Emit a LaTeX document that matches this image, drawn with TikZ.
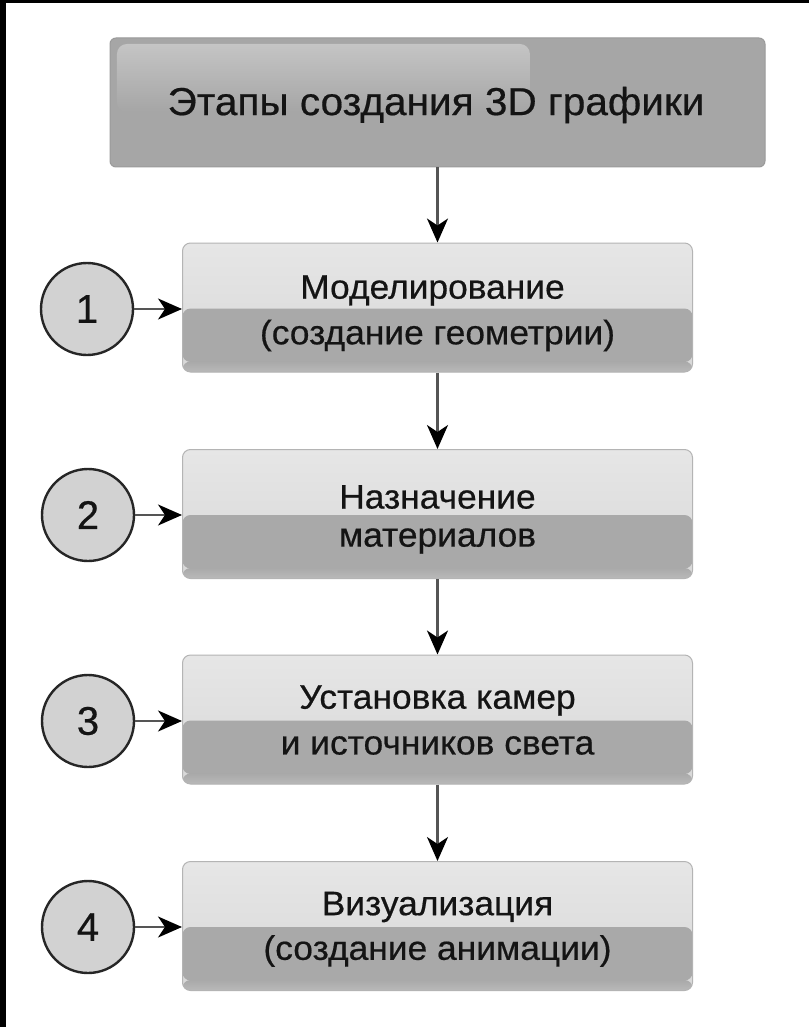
\documentclass[tikz,border=0pt]{standalone}
\usepackage{fontspec}
\setmainfont{Liberation Sans}
\newfontfamily\boxfont[FakeStretch=1.04,FakeBold=0.5]{Liberation Sans}
\newfontfamily\numfont[FakeBold=0.5]{Liberation Sans}
\usetikzlibrary{arrows.meta,fadings}
\definecolor{titlegray}{HTML}{A6A6A6}
\definecolor{titleedge}{HTML}{9A9A9A}
\definecolor{boxlight}{HTML}{D8D8D8}
\definecolor{boxlighttop}{HTML}{E6E6E6}
\definecolor{boxdark}{HTML}{A9A9A9}
\definecolor{boxdarkbot}{HTML}{B9B9B9}
\definecolor{boxedge}{HTML}{B4B4B4}
\definecolor{circfill}{HTML}{D2D2D2}
\definecolor{linegray}{HTML}{555555}
\definecolor{txt}{HTML}{141414}
\tikzset{
  titlebox/.style={rectangle, rounded corners=6pt, minimum width=655pt, minimum height=129pt,
    fill=titlegray, draw=titleedge, line width=1pt, inner sep=0pt},
  stepbox/.style={rectangle, rounded corners=8pt, minimum width=510pt, minimum height=129pt,
    draw=boxedge, line width=1pt, top color=boxlighttop, bottom color=boxlight, inner sep=0pt,
    path picture={\fill[boxdark]
      ([yshift=-1pt]path picture bounding box.west) rectangle ([yshift=10pt]path picture bounding box.south east);
      \shade[top color=boxdark, bottom color=boxdarkbot]
      ([yshift=10.5pt]path picture bounding box.south west) rectangle (path picture bounding box.south east);}},
  numcirc/.style={circle, minimum size=92pt, fill=circfill, draw=black!85, line width=2.4pt, inner sep=0pt,
    font=\numfont\fontsize{40pt}{40pt}\selectfont, text=txt},
  linetext/.style={inner sep=0pt, font=\boxfont\fontsize{34pt}{34pt}\selectfont, text=txt},
  flow/.style={draw=linegray, line width=2.4pt, -{Stealth[length=24pt,width=21pt,inset=7pt,color=black]}},
}
\begin{document}
\begin{tikzpicture}[x=1pt,y=1pt]
\useasboundingbox (0,0) rectangle (809,-1027);
\fill[white] (0,0) rectangle (809,-1027);
\fill[black] (0,0) rectangle (6,-1027);
\fill[black] (0,0) rectangle (809,-3);

% title
\node[titlebox] (title) at (437.5,-102.5) {};
\fill[white, fill opacity=0.35, path fading=south, rounded corners=10pt]
  (117,-44) rectangle (530,-112);
\node[inner sep=0pt, font=\boxfont\fontsize{39pt}{39pt}\selectfont, text=txt] (titletext) at (436,-105)
  {Этапы создания 3D графики};

% steps
\node[stepbox] (b1) at (437.5,-307.5) {};
\node[stepbox] (b2) at (437.5,-514) {};
\node[stepbox] (b3) at (437.5,-719.5) {};
\node[stepbox] (b4) at (437.5,-926) {};

\node[linetext] (b1a) at ([xshift=-5pt,yshift=17pt]b1.center) {Моделирование};
\node[linetext] (b1b) at ([yshift=-28pt]b1.center) {(создание геометрии)};
\node[linetext] (b2a) at ([yshift=17pt]b2.center) {Назначение};
\node[linetext] (b2b) at ([yshift=-27pt]b2.center) {материалов};
\node[linetext] (b3a) at ([yshift=19pt]b3.center) {Установка камер};
\node[linetext] (b3b) at ([yshift=-26pt]b3.center) {и источников света};
\node[linetext] (b4a) at ([yshift=19pt]b4.center) {Визуализация};
\node[linetext] (b4b) at ([yshift=-25pt]b4.center) {(создание анимации)};

% circles
\node[numcirc] (c1) at (87,-309) {1};
\node[numcirc] (c2) at (88,-515) {2};
\node[numcirc] (c3) at (88,-721) {3};
\node[numcirc] (c4) at (88,-927) {4};

% connectors
\draw[flow] (title.south) -- (b1.north);
\draw[flow] (b1.south) -- (b2.north);
\draw[flow] (b2.south) -- (b3.north);
\draw[flow] (b3.south) -- (b4.north);
\draw[flow] (c1.east) -- (b1.west |- c1.east);
\draw[flow] (c2.east) -- (b2.west |- c2.east);
\draw[flow] (c3.east) -- (b3.west |- c3.east);
\draw[flow] (c4.east) -- (b4.west |- c4.east);
\end{tikzpicture}
\end{document}
